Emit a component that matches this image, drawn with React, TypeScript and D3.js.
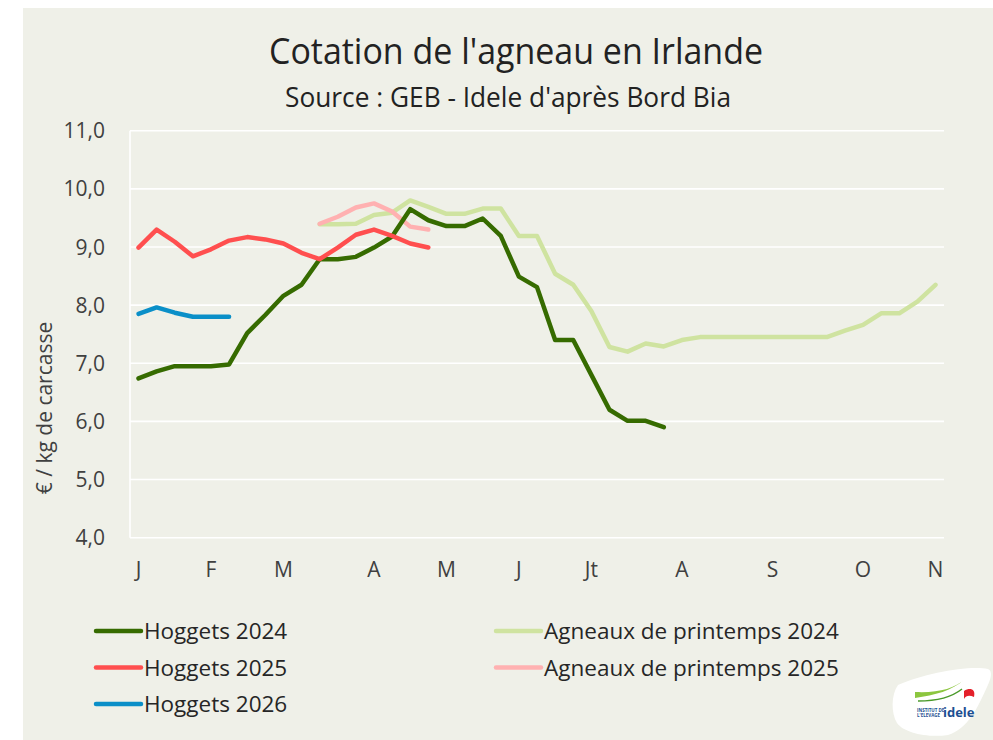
import * as d3 from "d3";
import React from "react";

// semaines (index 0 = 1re semaine de janvier)
const monthLabels = ["J", "F", "M", "A", "M", "J", "Jt", "A", "S", "O", "N"];
const monthWeeks = [0, 4, 8, 13, 17, 21, 25, 30, 35, 40, 44];
const yTicks = [4, 5, 6, 7, 8, 9, 10, 11];

// €/kg de carcasse
const hoggets2024 = [6.74, 6.86, 6.95, 6.95, 6.95, 6.98, 7.52, 7.83, 8.16, 8.35, 8.79, 8.79, 8.83, 8.99, 9.18, 9.65, 9.46, 9.36, 9.36, 9.49, 9.19, 8.49, 8.31, 7.4, 7.4, 6.8, 6.2, 6.01, 6.01, 5.9];
const agneaux2024 = [null, null, null, null, null, null, null, null, null, null, 9.39, 9.39, 9.4, 9.55, 9.59, 9.8, 9.69, 9.57, 9.57, 9.66, 9.66, 9.19, 9.19, 8.54, 8.35, 7.9, 7.28, 7.2, 7.34, 7.29, 7.4, 7.45, 7.45, 7.45, 7.45, 7.45, 7.45, 7.45, 7.45, 7.56, 7.66, 7.86, 7.86, 8.06, 8.35];
const hoggets2025 = [8.99, 9.3, 9.09, 8.84, 8.96, 9.11, 9.17, 9.13, 9.06, 8.9, 8.79, 8.99, 9.21, 9.3, 9.19, 9.06, 8.99];
const agneaux2025 = [null, null, null, null, null, null, null, null, null, null, 9.4, 9.52, 9.68, 9.75, 9.61, 9.35, 9.3];
const hoggets2026 = [7.85, 7.96, 7.87, 7.8, 7.8, 7.8];

const series = [
  { name: "Agneaux de printemps 2024", values: agneaux2024, color: "#cfe3a0" },
  { name: "Agneaux de printemps 2025", values: agneaux2025, color: "#ffb1b1" },
  { name: "Hoggets 2024", values: hoggets2024, color: "#366b00" },
  { name: "Hoggets 2025", values: hoggets2025, color: "#ff4f4f" },
  { name: "Hoggets 2026", values: hoggets2026, color: "#0a8fc8" },
];

const legendItems = [
  { name: "Hoggets 2024", color: "#366b00", col: 0, row: 0 },
  { name: "Hoggets 2025", color: "#ff4f4f", col: 0, row: 1 },
  { name: "Hoggets 2026", color: "#0a8fc8", col: 0, row: 2 },
  { name: "Agneaux de printemps 2024", color: "#cfe3a0", col: 1, row: 0 },
  { name: "Agneaux de printemps 2025", color: "#ffb1b1", col: 1, row: 1 },
];

const W = 993;
const H = 740;
const font = "'Open Sans', 'DejaVu Sans', sans-serif";

export default function App() {
  const x = d3.scalePoint<number>().domain(d3.range(45)).range([138.5, 935.5]);
  const y = d3.scaleLinear().domain([4, 11]).range([537.7, 130.7]);
  const plotLeft = 130;
  const plotRight = 944;

  const line = d3
    .line<number | null>()
    .defined((d) => d != null)
    .x((_, i) => x(i) as number)
    .y((d) => y(d as number));

  return (
    <div style={{ position: "absolute", left: 0, top: 0 }}>
      <svg width={W} height={H} style={{ display: "block" }}>
        <rect x={0} y={0} width={W} height={H} fill="#ffffff" />
        <rect x={23} y={8} width={W - 23} height={H - 8} fill="#eff0e8" />

        {/* titre */}
        <text x={516} y={64} textAnchor="middle" fontFamily={font} fontSize={36} fill="#222"
          textLength={494} lengthAdjust="spacingAndGlyphs">
          Cotation de l'agneau en Irlande
        </text>
        <text x={508} y={107} textAnchor="middle" fontFamily={font} fontSize={27} fill="#222"
          textLength={446} lengthAdjust="spacingAndGlyphs">
          Source : GEB - Idele d'après Bord Bia
        </text>

        {/* grille */}
        {yTicks.map((t) => (
          <g key={t}>
            <line x1={plotLeft} x2={plotRight} y1={y(t)} y2={y(t)} stroke="#ffffff" strokeWidth={1.6} />
            <text x={105} y={y(t)} dy="0.36em" textAnchor="end" fontFamily={font} fontSize={21} fill="#404040">
              {d3.format(".1f")(t).replace(".", ",")}
            </text>
          </g>
        ))}
        <line x1={plotLeft} x2={plotLeft} y1={y(11)} y2={y(4)} stroke="#ffffff" strokeWidth={1.6} />

        {monthLabels.map((m, i) => (
          <text key={i} x={x(monthWeeks[i])} y={577} textAnchor="middle" fontFamily={font} fontSize={21} fill="#404040">
            {m}
          </text>
        ))}

        <text transform="translate(52,408) rotate(-90)" textAnchor="middle" fontFamily={font} fontSize={21} fill="#404040">
          € / kg de carcasse
        </text>

        {/* courbes */}
        {series.map((s) => (
          <path key={s.name} d={line(s.values) || ""} fill="none" stroke={s.color} strokeWidth={4.5}
            strokeLinejoin="round" strokeLinecap="round" />
        ))}

        {/* légende */}
        {legendItems.map((l) => {
          const lx = l.col === 0 ? 96 : 496;
          const ly = 631 + l.row * 36.5;
          return (
            <g key={l.name}>
              <line x1={lx} x2={lx + 45} y1={ly} y2={ly} stroke={l.color} strokeWidth={4.5} strokeLinecap="round" />
              <text x={lx + 48} y={ly} dy="0.36em" fontFamily={font} fontSize={22.5} fill="#262626">
                {l.name}
              </text>
            </g>
          );
        })}

        {/* logo */}
        <g transform="translate(890,665)">
          <path d="M8,20 C35,8 80,0 98,4 C103,6 101,14 97,22 C88,42 78,64 58,70 C38,73 14,68 7,58 C1,48 1,30 8,20 Z" fill="#ffffff" />
          <path d="M25,33 C45,30 62,26 75,14 C64,24 48,28 25,27 Z" fill="#8cc63f" />
          <path d="M28,36 C48,36 62,32 72,24" fill="none" stroke="#4a9a2a" strokeWidth={1.5} />
          <path d="M74,26 C80,22 86,24 84,32 C80,30 76,30 74,34 Z" fill="#e4202a" />
          <text x={27} y={47} fontFamily={font} fontSize={4.5} fontWeight="bold" fill="#1d4f91">INSTITUT DE</text>
          <text x={27} y={52} fontFamily={font} fontSize={4.5} fontWeight="bold" fill="#1d4f91">L'ELEVAGE</text>
          <text x={53} y={52} fontFamily={font} fontSize={13} fontWeight="bold" fill="#1d4f91">idele</text>
        </g>
      </svg>
    </div>
  );
}
